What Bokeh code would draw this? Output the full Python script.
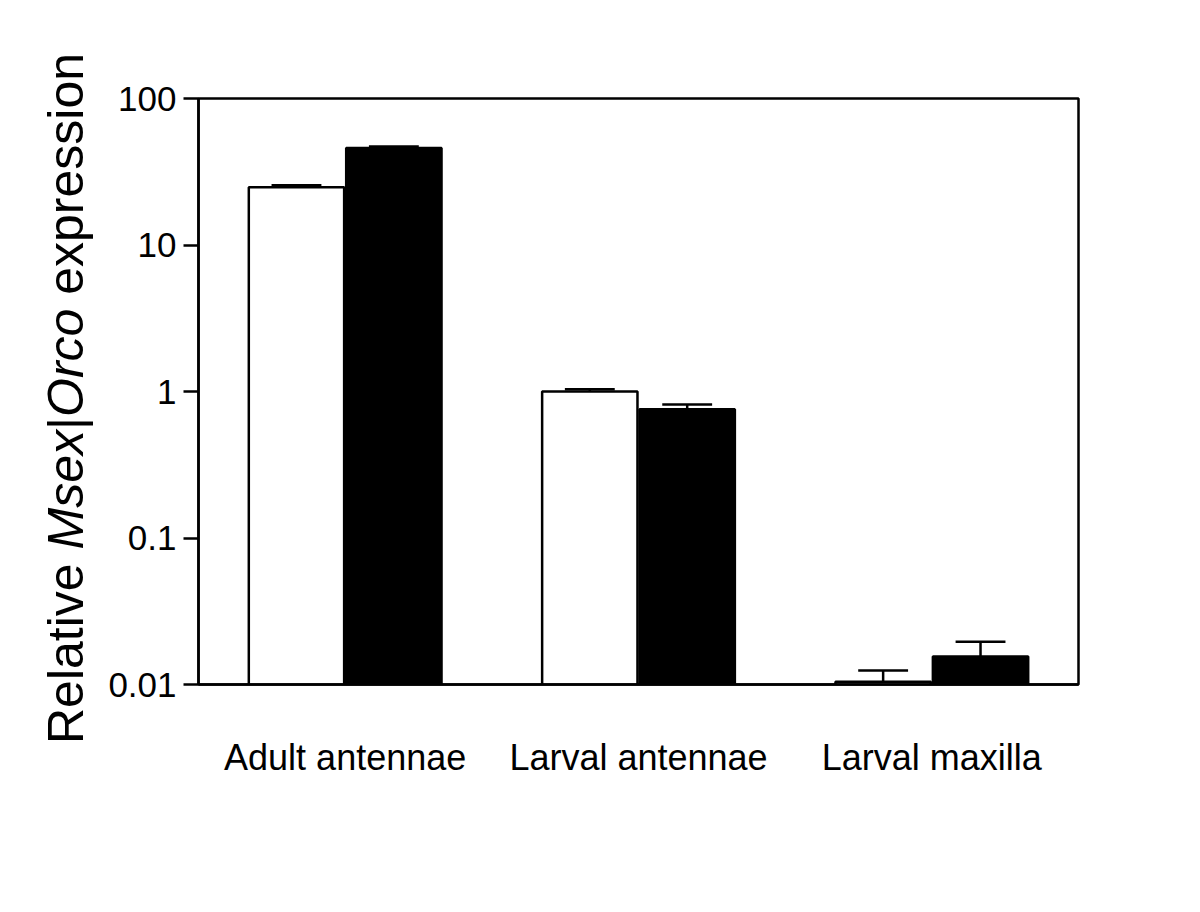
from bokeh.plotting import figure
from bokeh.layouts import row
from bokeh.models import (FactorRange, Range1d, FixedTicker, CustomJSTickFormatter,
                          ColumnDataSource, Div)
from bokeh.transform import dodge
from bokeh.embed import file_html
from bokeh.resources import INLINE

categories = ["Adult antennae", "Larval antennae", "Larval maxilla"]
white_vals = [24.8, 1.0, 0.01043]
white_upper = [25.6, 1.037, 0.01247]
black_vals = [46.0, 0.757, 0.01553]
black_upper = [47.1, 0.815, 0.01956]
y_ticks = [0.01, 0.1, 1, 10, 100]
ylabel_html = "Relative <i>Msex</i>|<i>Orco</i> expression"

FONT = "Liberation Sans"

src = ColumnDataSource(dict(cat=categories, white=white_vals, white_up=white_upper,
                            black=black_vals, black_up=black_upper))

p = figure(x_range=FactorRange(*categories), y_range=Range1d(0.01, 100),
           y_axis_type="log", frame_width=880, frame_height=586,
           min_border_left=98, min_border_right=106, min_border_top=98,
           min_border_bottom=212, output_backend="svg", toolbar_location=None)

p.xgrid.visible = False
p.ygrid.visible = False
p.outline_line_color = "black"
p.outline_line_width = 2.5
p.outline_line_alpha = 1.0

BW = 0.325
OFF = 0.166
CAP = 0.085
p.vbar(x=dodge("cat", -OFF, range=p.x_range), top="white", bottom=0.01, width=BW,
       fill_color="white", line_color="black", line_width=2.5, source=src)
p.vbar(x=dodge("cat", OFF, range=p.x_range), top="black", bottom=0.01, width=BW,
       fill_color="black", line_color="black", line_width=2.5, source=src)

for off, v, up in [(-OFF, "white", "white_up"), (OFF, "black", "black_up")]:
    p.segment(x0=dodge("cat", off, range=p.x_range), x1=dodge("cat", off, range=p.x_range),
              y0=v, y1=up, line_color="black", line_width=2.5, source=src)
    p.segment(x0=dodge("cat", off - CAP, range=p.x_range), x1=dodge("cat", off + CAP, range=p.x_range),
              y0=up, y1=up, line_color="black", line_width=2.5, source=src)

yax = p.yaxis[0]
yax.ticker = FixedTicker(ticks=y_ticks)
yax.formatter = CustomJSTickFormatter(code="return String(tick)")
yax.minor_tick_line_color = None
yax.major_tick_out = 15
yax.major_tick_in = 0
yax.major_tick_line_width = 2.5
yax.major_tick_line_color = "black"
yax.axis_line_width = 2.5
yax.axis_line_color = "black"
yax.major_label_text_font = FONT
yax.major_label_text_font_size = "35px"
yax.major_label_text_color = "black"
yax.major_label_standoff = 7

xax = p.xaxis[0]
xax.major_tick_line_color = None
xax.minor_tick_line_color = None
xax.major_tick_out = 0
xax.major_tick_in = 0
xax.axis_line_width = 2.5
xax.axis_line_color = "black"
xax.major_label_text_font = FONT
xax.major_label_text_font_size = "36px"
xax.major_label_text_color = "black"
xax.major_label_standoff = 52

# y-axis title (mixed roman / italic), rotated text beside the plot
title_div = Div(
    text=('<div style="position:relative;width:100px;height:896px;">'
          '<span style="position:absolute;left:41px;top:744px;white-space:nowrap;'
          'transform-origin:0 0;transform:rotate(-90deg);'
          f"font-family:'{FONT}';font-size:50px;line-height:50px;color:black;\">"
          f'{ylabel_html}</span></div>'),
    width=100, height=896, margin=0)

layout = row(title_div, p, spacing=0)
open("out.html", "w").write(file_html(layout, INLINE))
